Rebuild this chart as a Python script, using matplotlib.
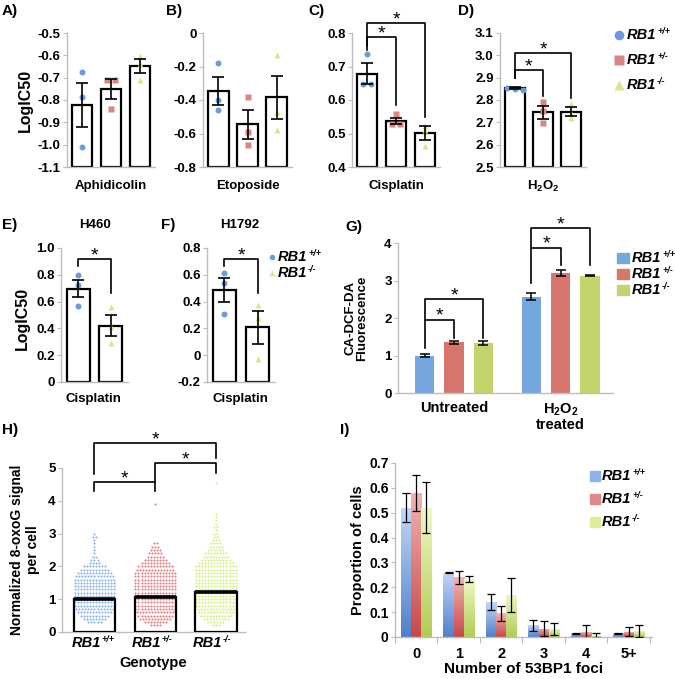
import numpy as np
import matplotlib
matplotlib.use('Agg')
import matplotlib.pyplot as plt
from matplotlib.colors import LinearSegmentedColormap

plt.rcParams.update({
    'font.family': 'Liberation Sans',
    'font.weight': 'bold',
    'axes.labelweight': 'bold',
    'axes.unicode_minus': False,
    'mathtext.fontset': 'custom',
    'mathtext.rm': 'Liberation Sans:bold',
    'mathtext.it': 'Liberation Sans:italic:bold',
    'mathtext.bf': 'Liberation Sans:bold',
    'mathtext.sf': 'Liberation Sans',
})

# ---------------- data ----------------
genotypes = ['+/+', '+/-', '-/-']

# A) Aphidicolin
A_means = [-0.822, -0.75, -0.648]
A_sem = [0.098, 0.045, 0.033]
A_wt = [-0.675, -0.787, -1.01]
A_het = [-0.71, -0.71, -0.84]
A_ko = [-0.603, -0.638, -0.71]

# B) Etoposide
B_means = [-0.347, -0.545, -0.385]
B_sem = [0.085, 0.085, 0.13]
B_wt = [-0.177, -0.40, -0.46]
B_het = [-0.38, -0.59, -0.67]
B_ko = [-0.13, -0.47, -0.58]

# C) Cisplatin
C_means = [0.679, 0.537, 0.501]
C_sem = [0.03, 0.01, 0.02]
C_wt = [0.738, 0.647, 0.647]
C_het = [0.557, 0.528, 0.528]
C_ko = [0.523, 0.511, 0.463]

# D) H2O2
D_means = [2.855, 2.745, 2.748]
D_sem = [0.005, 0.028, 0.02]
D_wt = [2.855, 2.85, 2.845]
D_het = [2.79, 2.75, 2.695]
D_ko = [2.78, 2.74, 2.72]

# E) H460 cisplatin, F) H1792 cisplatin (RB1+/+ and RB1-/-)
E_means = [0.696, 0.42]
E_sem = [0.065, 0.08]
E_wt = [0.795, 0.725, 0.567]
E_ko = [0.56, 0.41, 0.29]
F_means = [0.4875, 0.207]
F_sem = [0.088, 0.12]
F_wt = [0.61, 0.54, 0.31]
F_ko = [0.375, 0.275, -0.03]

# G) CA-DCF-DA fluorescence
G_groups = ['Untreated', 'H$_2$O$_2$\ntreated']
G_wt = [1.0, 2.57]
G_het = [1.35, 3.2]
G_ko = [1.34, 3.13]
G_wt_err = [0.03, 0.09]
G_het_err = [0.04, 0.07]
G_ko_err = [0.05, 0.01]

# H) 8-oxoG per cell: dots per row of the swarm, rows every 0.1
H_means = [1.02, 1.08, 1.22]
H_wt_start, H_wt_rows = 0.3, [5, 8, 10, 12, 13, 14, 14, 14, 14, 14, 14, 14, 14, 14,
                              13, 12, 10, 8, 4, 3, 2, 1, 1, 1, 1, 1, 2, 1]
H_het_start, H_het_rows = 0.2, [4, 8, 11, 12, 13, 14, 14, 14, 14, 14, 14, 14, 14,
                                14, 14, 14, 14, 13, 12, 10, 8, 6, 5, 4, 3, 2]
H_ko_start, H_ko_rows = 0.2, [3, 6, 9, 11, 12, 13, 14, 14, 14, 14, 14, 14, 14, 14,
                              14, 14, 14, 14, 14, 12, 10, 9, 8, 6, 5, 4, 3, 2, 2,
                              1, 2, 1, 1, 1, 1]
H_het_extra = [3.9]
H_ko_extra = [4.55]

# I) 53BP1 foci
I_cats = ['0', '1', '2', '3', '4', '5+']
I_wt = [0.52, 0.258, 0.14, 0.048, 0.015, 0.015]
I_het = [0.58, 0.24, 0.095, 0.033, 0.02, 0.022]
I_ko = [0.52, 0.233, 0.17, 0.033, 0.005, 0.025]
I_wt_err = [0.058, 0.002, 0.033, 0.022, 0.001, 0.002]
I_het_err = [0.072, 0.025, 0.03, 0.03, 0.027, 0.017]
I_ko_err = [0.103, 0.013, 0.068, 0.025, 0.01, 0.025]

# ---------------- style ----------------
BLUE_PT, RED_PT, GRN_PT = '#6b9bd9', '#db8484', '#d6e78c'
BLUE_G, RED_G, GRN_G = '#76a6de', '#d7766e', '#c2d46b'
GRAY = '#bdbdbd'

W, H = 675, 679
fig = plt.figure(figsize=(W / 100, H / 100), dpi=100)


def add_ax(l, t, r, b):
    return fig.add_axes([l / W, 1 - b / H, (r - l) / W, (b - t) / H])


def style(ax, xticks=False):
    for s in ['top', 'right']:
        ax.spines[s].set_visible(False)
    for s in ['left', 'bottom']:
        ax.spines[s].set_color(GRAY)
        ax.spines[s].set_linewidth(1.0)
    ax.tick_params(axis='y', color=GRAY, length=3, width=0.8, labelsize=9.5, pad=1.5)
    if not xticks:
        ax.set_xticks([])


def spread(vals, tol, step):
    offs = np.zeros(len(vals))
    used = [False] * len(vals)
    for i in range(len(vals)):
        if used[i]:
            continue
        grp = [j for j in range(len(vals)) if not used[j] and abs(vals[j] - vals[i]) < tol]
        for k, j in enumerate(grp):
            offs[j] = (k - (len(grp) - 1) / 2) * step
            used[j] = True
    return offs


def dot_panel(ax, means, sems, groups, marks, cols, ylim, yticks, labels):
    x = np.arange(len(means))
    ax.bar(x, np.array(means) - ylim[0], bottom=ylim[0], width=0.7,
           facecolor='white', edgecolor='black', lw=1.6, zorder=2)
    tol = 0.02 * (ylim[1] - ylim[0])
    for i, (pts, m, c) in enumerate(zip(groups, marks, cols)):
        offs = spread(pts, tol, 0.28)
        ax.plot(x[i] + offs, pts, m, color=c, ms=4.3, mec='none', ls='none', zorder=3, clip_on=False)
    ax.errorbar(x, means, yerr=sems, fmt='none', ecolor='black', elinewidth=1.2,
                capsize=4.5, capthick=1.2, zorder=4)
    ax.set_ylim(*ylim)
    ax.set_xlim(-0.53, len(means) - 0.47)
    ax.set_yticks(yticks)
    ax.set_yticklabels(labels)
    style(ax)


def bracket(ax, x0, x1, y, yl, yr, lw=1.2, fs=14):
    ax.plot([x0, x0, x1, x1], [yl, y, y, yr], color='black', lw=lw, clip_on=False, zorder=5)
    ax.annotate('*', ((x0 + x1) / 2, y), xytext=(0, 2.5), textcoords='offset points',
                ha='center', va='center', fontsize=fs, fontweight='normal', annotation_clip=False)


marks3 = ['o', 's', '^']
cols3 = [BLUE_PT, RED_PT, GRN_PT]

# A
axA = add_ax(67, 33, 155, 167)
dot_panel(axA, A_means, A_sem, [A_wt, A_het, A_ko], marks3, cols3, (-1.1, -0.5),
          np.arange(-1.1, -0.45, 0.1), ['-1.1', '-1.0', '-0.9', '-0.8', '-0.7', '-0.6', '-0.5'])
# B
axB = add_ax(203, 33, 292, 167)
dot_panel(axB, B_means, B_sem, [B_wt, B_het, B_ko], marks3, cols3, (-0.8, 0.0),
          [-0.8, -0.6, -0.4, -0.2, 0], ['-0.8', '-0.6', '-0.4', '-0.2', '0'])
# C
axC = add_ax(352, 33, 440, 167)
dot_panel(axC, C_means, C_sem, [C_wt, C_het, C_ko], marks3, cols3, (0.4, 0.8),
          [0.4, 0.5, 0.6, 0.7, 0.8], ['0.4', '0.5', '0.6', '0.7', '0.8'])
bracket(axC, 0, 2, 0.83, 0.76, 0.55)
bracket(axC, 0, 1, 0.788, 0.749, 0.585)
# D
axD = add_ax(500, 33, 586, 167)
dot_panel(axD, D_means, D_sem, [D_wt, D_het, D_ko], marks3, cols3, (2.5, 3.1),
          np.arange(2.5, 3.15, 0.1), ['2.5', '2.6', '2.7', '2.8', '2.9', '3.0', '3.1'])
bracket(axD, 0, 2, 3.01, 2.90, 2.81)
bracket(axD, 0, 1, 2.933, 2.90, 2.82)
# E
axE = add_ax(61, 248, 128, 382)
dot_panel(axE, E_means, E_sem, [E_wt, E_ko], ['o', '^'], [BLUE_PT, GRN_PT], (0, 1.0),
          [0, 0.2, 0.4, 0.6, 0.8, 1.0], ['0', '0.2', '0.4', '0.6', '0.8', '1.0'])
bracket(axE, 0, 1, 0.918, 0.866, 0.664)
# F
axF = add_ax(207, 248, 275, 382)
dot_panel(axF, F_means, F_sem, [F_wt, F_ko], ['o', '^'], [BLUE_PT, GRN_PT], (-0.2, 0.8),
          [-0.2, 0, 0.2, 0.4, 0.6, 0.8], ['-0.2', '0', '0.2', '0.4', '0.6', '0.8'])
bracket(axF, 0, 1, 0.718, 0.666, 0.464)

# G
axG = add_ax(398, 243, 613, 393)
xg = np.arange(len(G_groups))
off, bw = 0.275, 0.18
for k, (vals, errs, c) in enumerate([(G_wt, G_wt_err, BLUE_G), (G_het, G_het_err, RED_G),
                                      (G_ko, G_ko_err, GRN_G)]):
    xx = xg + (k - 1) * off
    axG.bar(xx, vals, width=bw, color=c, zorder=2)
    axG.errorbar(xx, vals, yerr=errs, fmt='none', ecolor='black', elinewidth=1.1,
                 capsize=3.5, capthick=1.1, zorder=3)
axG.set_ylim(0, 4)
axG.set_xlim(-0.526, 1.49)
axG.set_yticks([0, 1, 2, 3, 4])
style(axG, xticks=True)
axG.set_xticks(xg)
axG.set_xticklabels(G_groups, fontsize=10.5, linespacing=1.05)
axG.tick_params(axis='x', length=0, pad=6)
bracket(axG, -off, 0, 1.95, 1.2, 1.47)
bracket(axG, -off, off, 2.5, 1.95, 1.47)
bracket(axG, 1 - off, 1, 3.87, 2.93, 3.41)
bracket(axG, 1 - off, 1 + off, 4.4, 3.87, 3.41)

# H
axH = add_ax(62, 468, 245, 632)
xh = np.arange(3)
dx = 0.05
for i, (start, rows, extra, c) in enumerate([(H_wt_start, H_wt_rows, [], '#8cb2ea'),
                                              (H_het_start, H_het_rows, H_het_extra, '#e9797c'),
                                              (H_ko_start, H_ko_rows, H_ko_extra, '#d6ee88')]):
    px, py = [], []
    for r, n in enumerate(rows):
        yv = start + 0.1 * r
        for j in range(n):
            px.append(xh[i] + (j - (n - 1) / 2) * dx)
            py.append(yv)
    for e in extra:
        px.append(xh[i])
        py.append(e)
    axH.scatter(px, py, s=2.2, color=c, lw=0, zorder=2)
axH.bar(xh, H_means, width=0.68, facecolor='none', edgecolor='black', lw=1.6, zorder=3)
axH.hlines(H_means, xh - 0.34, xh + 0.34, color='black', lw=2.6, zorder=4)
axH.set_ylim(0, 5)
axH.set_xlim(-0.535, 2.48)
axH.set_yticks([0, 1, 2, 3, 4, 5])
style(axH, xticks=True)
axH.set_xticks(xh)
axH.set_xticklabels(['', '', ''])
axH.tick_params(axis='x', length=0)
axH.set_xlabel('Genotype', fontsize=10.5, labelpad=14)
bracket(axH, 0, 2, 5.76, 4.82, 5.3)
bracket(axH, 1, 2, 5.15, 4.57, 4.85)
bracket(axH, 0, 1, 4.57, 4.3, 4.3)

# I
axI = add_ax(395, 463, 652, 637)
xi = np.arange(len(I_cats))
iw = 0.24
grads = [('#4f80cc', '#c3d6f6', I_wt, I_wt_err), ('#c94848', '#f1b4b2', I_het, I_het_err),
         ('#b2cc55', '#eff8c4', I_ko, I_ko_err)]
for k, (dark, light, vals, errs) in enumerate(grads):
    xx = xi + (k - 1) * iw
    bars = axI.bar(xx, vals, width=iw, color=light, zorder=2)
    cmap = LinearSegmentedColormap.from_list('g%d' % k, [dark, light])
    for b in bars:
        im = axI.imshow(np.linspace(0, 1, 64).reshape(-1, 1), cmap=cmap, origin='lower',
                        extent=[b.get_x(), b.get_x() + b.get_width(), 0, max(b.get_height(), 1e-4)],
                        aspect='auto', zorder=2.5)
        im.set_clip_path(b)
    axI.errorbar(xx, vals, yerr=errs, fmt='none', ecolor='black', elinewidth=0.9,
                 capsize=3, capthick=0.9, zorder=3)
axI.set_ylim(0, 0.7)
axI.set_xlim(-0.5, 5.55)
axI.set_yticks(np.arange(0, 0.75, 0.1))
axI.set_yticklabels(['0', '0.1', '0.2', '0.3', '0.4', '0.5', '0.6', '0.7'])
style(axI, xticks=True)
axI.tick_params(axis='y', labelsize=10)
axI.set_xticks(xi)
axI.set_xticklabels(I_cats, fontsize=10.5)
axI.set_xticks(np.arange(-0.5, 6, 1), minor=True)
axI.tick_params(axis='x', which='major', length=0, pad=7)
axI.tick_params(axis='x', which='minor', length=4, color=GRAY, width=0.8)
axI.set_xlabel('Number of 53BP1 foci', fontsize=11, labelpad=1)
axI.set_ylabel('Proportion of cells', fontsize=10.5, labelpad=3)

# ---------------- annotations in pixel space ----------------
ov = fig.add_axes([0, 0, 1, 1])
ov.set_xlim(0, W)
ov.set_ylim(H, 0)
ov.axis('off')


def rb1(x, y, g, fs=10, ha='left'):
    t = ov.text(x, y, 'RB1', fontsize=fs, style='italic', ha=ha, va='center')
    ov.annotate(g, xy=(1, 0.45), xycoords=t, xytext=(0.6, 0), textcoords='offset points',
                fontsize=fs * 0.62, style='italic', ha='left', va='bottom')


for lab, x, y in [('A)', 2, 11), ('B)', 166, 11), ('C)', 308, 11), ('D)', 458, 11),
                  ('E)', 2, 225), ('F)', 161, 225), ('G)', 345, 227), ('H)', 2, 430),
                  ('I)', 340, 430)]:
    ov.text(x, y, lab, fontsize=11, ha='left', va='center')

ov.text(25, 100, 'LogIC50', rotation=90, fontsize=11.5, ha='center', va='center')
ov.text(22, 318, 'LogIC50', rotation=90, fontsize=11.5, ha='center', va='center')
ov.text(111, 186, 'Aphidicolin', fontsize=9.5, ha='center', va='center')
ov.text(248, 186, 'Etoposide', fontsize=9.5, ha='center', va='center')
ov.text(396, 186, 'Cisplatin', fontsize=9.5, ha='center', va='center')
ov.text(543, 186, r'$\mathsf{H_2O_2}$', fontsize=9.5, ha='center', va='center')
ov.text(95, 225, 'H460', fontsize=9.5, ha='center', va='center')
ov.text(240, 225, 'H1792', fontsize=9.5, ha='center', va='center')
ov.text(93, 399, 'Cisplatin', fontsize=9.5, ha='center', va='center')
ov.text(240, 399, 'Cisplatin', fontsize=9.5, ha='center', va='center')
ov.text(356, 318, 'CA-DCF-DA\nFluorescence', rotation=90, fontsize=9.5, ha='center',
        va='center', linespacing=1.0)
ov.text(25, 550, 'Normalized 8-oxoG signal\nper cell', rotation=90, fontsize=10,
        ha='center', va='center', linespacing=1.1)

# genotype tick labels of H
for xc, g in zip([95, 155, 216], genotypes):
    rb1(xc + 6, 643, g, fs=10.5, ha='right')

# top legend (A-D)
for m, c, y, g in zip(marks3, cols3, [35, 60, 85], genotypes):
    ov.plot([619], [y], m, color=c, ms=7, mec='none')
    rb1(627, y, g, fs=10.5)
# F legend
for m, c, y, g in zip(['o', '^'], [BLUE_PT, GRN_PT], [257, 273], ['+/+', '-/-']):
    ov.plot([272], [y], m, color=c, ms=4, mec='none')
    rb1(278, y, g, fs=10.5)
# G legend
for c, y, g in zip([BLUE_G, RED_G, GRN_G], [258, 274, 290], genotypes):
    ov.add_patch(plt.Rectangle((617, y - 5), 12, 10, color=c))
    rb1(632, y, g, fs=10.5)
# I legend
for c, y, g in zip(['#8fb2ea', '#e08a88', '#dcef98'], [476, 499, 522], genotypes):
    ov.add_patch(plt.Rectangle((590, y - 5), 10, 10, color=c))
    rb1(602, y, g, fs=10.5)

fig.savefig('out.png', dpi=100)
